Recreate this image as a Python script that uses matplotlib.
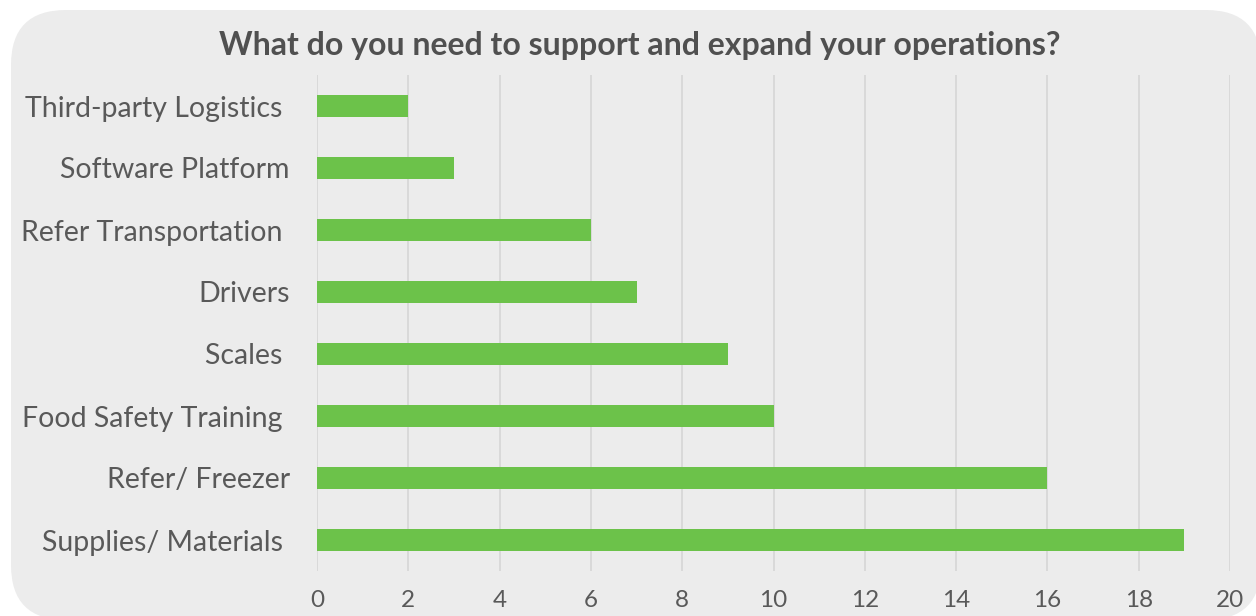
import matplotlib.pyplot as plt
from matplotlib.patches import FancyBboxPatch

categories = ['Supplies/ Materials ', 'Refer/ Freezer', 'Food Safety Training ', 'Scales ',
              'Drivers', 'Refer Transportation ', 'Software Platform', 'Third-party Logistics ']
counts = [19, 16, 10, 9, 7, 6, 3, 2]
xticks = list(range(0, 21, 2))

plt.rcParams['font.family'] = ['Lato', 'DejaVu Sans']
text_col = '#595959'

W, H = 1256, 616
fig = plt.figure(figsize=(W / 100, H / 100), dpi=100)
fig.patch.set_facecolor('white')

# rounded grey panel behind everything, drawn in pixel units
bg = fig.add_axes([0, 0, 1, 1], zorder=-1)
bg.set_xlim(0, W)
bg.set_ylim(H, 0)
bg.axis('off')
bg.add_patch(FancyBboxPatch((11, 10), 1250, 610,
                            boxstyle='round,pad=0,rounding_size=55',
                            facecolor='#ececec', edgecolor='none'))

ax = fig.add_axes([317 / W, 45 / H, 913 / W, 496 / H])
ax.set_facecolor('none')

ax.barh(categories, counts, height=0.34, color='#6cc24a', zorder=3)

ax.set_xlim(0, 20)
ax.set_ylim(-0.5, 7.5)
ax.set_xticks(xticks)
ax.grid(axis='x', color='#d6d6d6', linewidth=1.2, zorder=0)
for s in ax.spines.values():
    s.set_visible(False)
ax.tick_params(axis='both', length=0, labelcolor=text_col)
ax.tick_params(axis='y', pad=19.5, labelsize=20.5)
ax.tick_params(axis='x', pad=14, labelsize=17.5)

fig.text(640 / W, 1 - 45 / H, 'What do you need to support and expand your operations?',
         ha='center', va='center', fontsize=23, fontweight='bold', color='#505050')

fig.savefig('out.png', dpi=100)
